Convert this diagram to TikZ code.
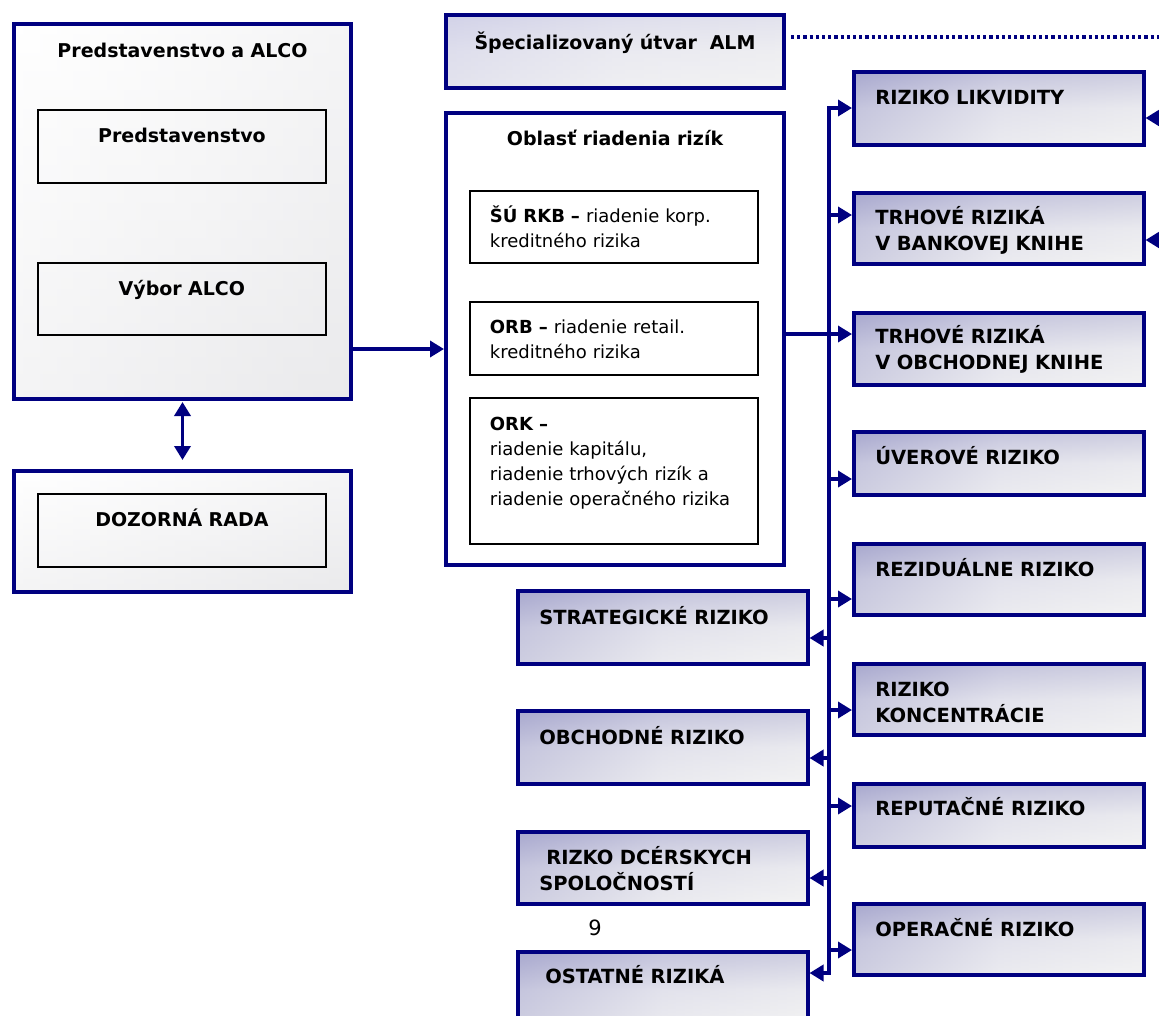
\documentclass[tikz,border=0pt]{standalone}
\usepackage{fontspec}
\setmainfont{DejaVu Sans}
\usetikzlibrary{arrows.meta}
\definecolor{navy}{RGB}{0,0,128}
\definecolor{lav}{RGB}{168,168,206}
\definecolor{lavmid}{RGB}{226,226,236}
\definecolor{lgray}{RGB}{243,243,243}
\definecolor{almtop}{RGB}{210,210,232}
\definecolor{almmid}{RGB}{234,234,241}
\definecolor{boxgray}{RGB}{234,234,236}
\definecolor{boxmid}{RGB}{245,245,246}
\newcommand\rkfont{\fontsize{19.5pt}{26pt}\selectfont\bfseries}
\newcommand\ttlfont{\fontsize{19pt}{24pt}\selectfont\bfseries}
\newcommand\bdfont{\fontsize{18pt}{25pt}\selectfont}
\begin{document}
\begin{tikzpicture}[x=1pt,y=-1pt,
  diag/.style n args={3}{preaction={left color=#1, right color=#3, middle color=#2}, preaction={top color=#1, bottom color=#3, middle color=#2, fill opacity=0.5}},
  navybox/.style={draw=navy, line width=4pt, anchor=north west, inner ysep=0pt, inner xsep=0pt, align=center, font=\ttlfont},
  greybox/.style={navybox, diag={white}{boxmid}{boxgray}},
  blackbox/.style={draw=black, line width=1.8pt, anchor=north west, inner ysep=0pt, inner xsep=0pt, text width=288pt, align=center, font=\ttlfont},
  subbox/.style={draw=black, line width=1.8pt, fill=white, anchor=north west, inner ysep=0pt, inner xsep=20pt, text width=248pt, align=left, font=\bdfont},
  riskbox/.style={draw=navy, line width=3.5pt, diag={lav}{lavmid}{lgray}, anchor=north west, inner ysep=0pt, inner xsep=21.5pt, text width=247pt, align=left, font=\rkfont},
  conn/.style={draw=navy, line width=3.5pt},
  arr/.style={conn, -{Triangle[length=14pt,width=16pt]}},
  darr/.style={conn, {Triangle[length=14pt,width=16pt]}-{Triangle[length=14pt,width=16pt]}},
  dotl/.style={draw=navy, line width=3.5pt, dash pattern=on 3.2pt off 3pt}
]
\fill[white] (0,0) rectangle (1159,1015);
\useasboundingbox (0,0) rectangle (1159,1015);

% left side
\node[greybox, text width=337pt, text height=33pt, text depth=342pt] (B1) at (12,22) {Predstavenstvo a ALCO};
\node[blackbox, text height=33pt, text depth=40pt] (P1) at (37,109) {Predstavenstvo};
\node[blackbox, text height=33pt, text depth=39pt] (P2) at (37,262) {Výbor ALCO};
\node[greybox, minimum width=337pt, minimum height=121pt] (D) at (12,469) {};
\node[blackbox, text height=33pt, text depth=40pt] (DR) at (37,493) {DOZORNÁ RADA};

% middle
\node[navybox, diag={almtop}{almmid}{lgray}, text width=338pt, text height=34pt, text depth=39pt] (ALM) at (444,13) {Špecializovaný útvar\ \ ALM};
\node[navybox, fill=white, text width=338pt, text height=32pt, text depth=420pt] (O) at (444,111) {Oblasť riadenia rizík};
\node[subbox, text height=32pt, text depth=40pt] (S1) at (469,190) {\textbf{ŠÚ RKB –} riadenie korp.\\kreditného rizika};
\node[subbox, text height=32pt, text depth=41pt] (S2) at (469,301) {\textbf{ORB –} riadenie retail.\\kreditného rizika};
\node[subbox, text height=33pt, text depth=113pt] (S3) at (469,397) {\textbf{ORK –}\\riadenie kapitálu,\\riadenie trhových rizík a\\riadenie operačného rizika};

% right risk boxes
\node[riskbox, text height=33pt, text depth=40pt] (R1) at (852,70) {RIZIKO LIKVIDITY};
\node[riskbox, text height=32pt, text depth=39pt] (R2) at (852,191) {TRHOVÉ RIZIKÁ\\V BANKOVEJ KNIHE};
\node[riskbox, text height=31pt, text depth=41pt] (R3) at (852,311) {TRHOVÉ RIZIKÁ\\V OBCHODNEJ KNIHE};
\node[riskbox, text height=33pt, text depth=30pt] (R4) at (852,430) {ÚVEROVÉ RIZIKO};
\node[riskbox, text height=33pt, text depth=38pt] (R5) at (852,542) {REZIDUÁLNE RIZIKO};
\node[riskbox, text height=33pt, text depth=38pt] (R6) at (852,662) {RIZIKO\\KONCENTRÁCIE};
\node[riskbox, text height=32pt, text depth=31pt] (R7) at (852,782) {REPUTAČNÉ RIZIKO};
\node[riskbox, text height=33pt, text depth=38pt] (R8) at (852,902) {OPERAČNÉ RIZIKO};

% left risk boxes
\node[riskbox, text height=34pt, text depth=39pt] (L1) at (516,589) {STRATEGICKÉ RIZIKO};
\node[riskbox, text height=34pt, text depth=39pt] (L2) at (516,709) {OBCHODNÉ RIZIKO};
\node[riskbox, text height=33pt, text depth=39pt] (L3) at (516,830) {\hspace*{7pt}RIZKO DCÉRSKYCH\\SPOLOČNOSTÍ};
\node[riskbox, text height=32pt, text depth=43pt] (L4) at (516,950) {\hspace*{6pt}OSTATNÉ RIZIKÁ};

\node[font=\fontsize{21pt}{21pt}\selectfont, anchor=base, inner sep=0pt] (pg) at (595,935) {9};

% coordinates
\coordinate (y349) at (0,349);
\coordinate (tTop) at (829,108);
\coordinate (tBot) at (829,973);
\coordinate (a2) at (829,215);
\coordinate (a3) at (829,334);
\coordinate (a4) at (829,479);
\coordinate (a5) at (829,599);
\coordinate (a6) at (829,710);
\coordinate (a7) at (829,806);
\coordinate (a8) at (829,950);
\coordinate (b1) at (829,638);
\coordinate (b2) at (829,758);
\coordinate (b3) at (829,878);
\coordinate (e1) at (1172,118);
\coordinate (e2) at (1172,240);
\coordinate (dotEnd) at (1165,37);

% connectors
\draw[darr, shorten <=1pt, shorten >=9pt] (B1.south) -- (D.north);
\draw[arr] (B1.east |- y349) -- (O.west |- y349);
\draw[dotl, shorten <=5pt] (ALM.east |- dotEnd) -- (dotEnd);
\draw[arr] (tBot) -- (tTop) -- (R1.west |- tTop);
\draw[arr] (tTop) -- (tBot) -- (L4.east |- tBot);
\draw[arr] (a2) -- (R2.west |- a2);
\draw[arr] (O.east |- a3) -- (R3.west |- a3);
\draw[arr] (a4) -- (R4.west |- a4);
\draw[arr] (a5) -- (R5.west |- a5);
\draw[arr] (a6) -- (R6.west |- a6);
\draw[arr] (a7) -- (R7.west |- a7);
\draw[arr] (a8) -- (R8.west |- a8);
\draw[arr] (b1) -- (L1.east |- b1);
\draw[arr] (b2) -- (L2.east |- b2);
\draw[arr] (b3) -- (L3.east |- b3);
\draw[arr] (e1) -- (R1.east |- e1);
\draw[arr] (e2) -- (R2.east |- e2);
\end{tikzpicture}
\end{document}
